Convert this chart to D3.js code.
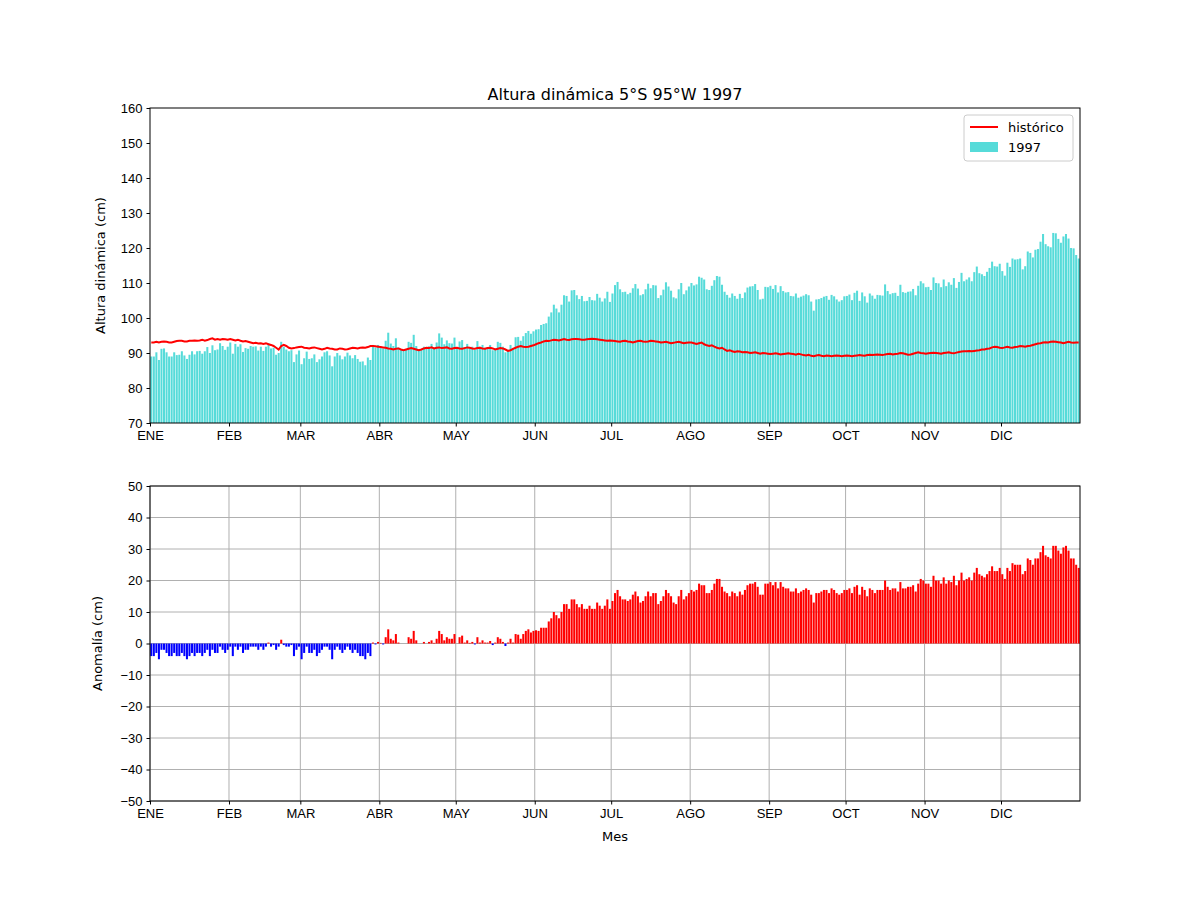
<!DOCTYPE html>
<html><head><meta charset="utf-8">
<script src="https://cdn.jsdelivr.net/npm/d3@7"></script>
<style>body{margin:0;background:#fff}svg{font-family:"DejaVu Sans",sans-serif}</style>
</head><body><svg id="c" width="1200" height="900"></svg>
<script>
const monthLabels=["ENE","FEB","MAR","ABR","MAY","JUN","JUL","AGO","SEP","OCT","NOV","DIC"];
const monthDays=[31,28,31,30,31,30,31,31,30,31,30,31];
const topTicks=[70,80,90,100,110,120,130,140,150,160];
const bottomTicks=[-50,-40,-30,-20,-10,0,10,20,30,40,50];
const anomalyByMonth=[
[-4,-4,-3,-5,-2,-2,-3,-4,-4,-3,-4,-4,-3,-4,-5,-4,-3,-4,-3,-3,-4,-3,-2,-4,-2,-3,-3,-1,-2,-3,-2],
[-1,-4,-1,-2,-1,-3,-2,-2,-1,-1,-1,-2,-1,-2,-1,0.3,-1,-0.5,-2,-1,1.2,-0.5,-1,-1,-0.5,-4,-2,-1],
[-5,-3,-1,-3,-3,-2,-4,-3,-2,-1,-1,-2,-5,-2,-1,-2,-3,-2,-1,-2,-3,-2,-3,-4,-4,-5,-3,-4,0.3,-0.3,0.5],
[0.2,-0.3,2,4.5,1.5,1,3,0.3,0,0,0,2,1.5,4,1,0,0,0.5,0,0.5,1,0.2,1.5,4,3,1,2,1.5,1.5,3],
[0,2,2.5,0.3,1,0.2,0.5,-0.3,2,0.3,1,0.3,0.3,0.8,-0.5,0.3,2,1.5,0.5,-0.8,0.3,1.5,0.3,3,2.8,1.5,3,4,4.5,3.5,4],
[4.2,4,5,5,5,7,8,10,9,8,10,12.5,12.5,11,14,14,12.5,11.5,12.5,11,11,12,11,11,13,12,11,12,14,11],
[13.5,16,17,15,14,14,13.5,14,15.5,16.5,15,13,13.5,15,16.5,15,16,16,12.5,13.5,15,17,16,15,13,12.5,15,17,14,15,16],
[17,16.5,17,19,18.5,18.5,16,16,17,19,20.5,20.5,18,16.5,16,15,16.5,16,15,16.5,15.5,17,18.5,19,19,19.5,18,15.5,15.5,19,19],
[19.5,18.5,19.5,17.5,19.5,18,17.5,17.5,16.5,16.5,17.5,16,16.5,17,17.5,17,15.5,13,16,16,16.5,17,17,16,17.5,17,16,15.5,16,17],
[17,17.5,16,18,18.5,15.5,18,17,15,17.5,17,16,17,17,17,20,18,17,17.5,17.5,16.5,19.5,17.5,17.5,18,18,18.5,16.5,19,20.5,20],
[19,19,18,21.5,20,20,19,21,19,20,19.5,21.5,18.5,20,22.5,20,20.5,21,20,22.5,24,22,21.5,21,22,23,24.5,23,23,24],
[22,20.5,24,23,25.5,25,25,25,22,23,27,26.5,25,27,27,29,31,28,27.5,27,31,31,29.5,28.5,30.5,31,29.5,27,27,25,24]];
const historicByMonth=[
[93,93,93.2,93,93.2,93.3,93.2,93,93,93.2,93.4,93.5,93.5,93.3,93.3,93.5,93.5,93.6,93.5,93.6,93.8,93.5,93.7,94,94.2,93.8,94,93.8,94,93.9,93.8],
[94,93.8,93.6,93.8,93.5,93.3,93.4,93.2,93,92.8,92.9,92.7,92.8,92.6,92.8,92.5,92.3,92,91.5,91,92,92.3,92,91.5,91.3,91.4,91.6,91.7],
[91.8,91.5,91.4,91.3,91.5,91.6,91.4,91.2,91,91.2,91.5,91.3,91.2,91,91,91.3,91.2,91,91.1,91.3,91.5,91.4,91.3,91.5,91.6,91.5,91.7,92,92,91.9,91.8],
[91.7,91.6,91.5,91.3,91.2,91,91.2,91.3,91,90.8,91,91.2,91.4,91.2,91,90.8,91,91.3,91.5,91.4,91.6,91.3,91.5,91.6,91.4,91.5,91.6,91.3,91.2,91.4],
[91.5,91.3,91.2,91.4,91.6,91.5,91.3,91.2,91.4,91.5,91.3,91.2,91.4,91.5,91.3,91,91.2,91.4,91.3,91,90.6,90.8,91.2,91.5,91.8,92,91.8,91.7,91.8,92,92.2],
[92.5,92.8,93,93.3,93.5,93.4,93.6,93.8,93.7,93.6,93.8,94,93.8,93.7,93.9,94,94,93.9,93.8,93.8,93.9,94,94.1,94,93.9,93.8,93.7,93.6,93.5,93.6],
[93.5,93.4,93.3,93.2,93.4,93.5,93.3,93.2,93,93.2,93.4,93.5,93.3,93.2,93.3,93.5,93.4,93.3,93.2,93,93.1,93.2,93,92.8,92.9,93.1,93.2,93,92.8,92.9,93],
[93,92.8,92.6,92.8,93,92.5,92.2,92,92.2,91.8,91.5,91.3,91.5,91,90.6,90.8,90.5,90.3,90.5,90.4,90.2,90.3,90.2,90,90.1,90.2,90,89.8,90,89.9,89.8],
[89.7,89.8,89.9,89.8,89.6,89.7,89.8,89.9,89.8,89.7,89.5,89.8,89.6,89.4,89.3,89.5,89.2,89.1,89.3,89.4,89.2,89.1,89.3,89.2,89.1,89.2,89.3,89.2,89.1,89.2],
[89.3,89.2,89.1,89.2,89.3,89.4,89.3,89.2,89.4,89.5,89.4,89.5,89.6,89.5,89.4,89.6,89.7,89.8,89.6,89.7,89.8,90,89.9,89.7,89.5,89.6,89.8,90,90.2,90,89.9],
[89.8,89.9,90,90.1,90,89.9,89.8,90,90.1,90.2,90,89.9,90.1,90.3,90.4,90.5,90.5,90.6,90.5,90.6,90.7,90.8,91,91,91.2,91.3,91.6,91.8,91.7,91.5],
[91.4,91.6,91.8,91.6,91.5,91.7,91.8,92,91.9,91.8,92,92.1,92.3,92.5,92.7,92.8,93,93.1,93,93.2,93.3,93.2,93.1,93,92.8,93,93.2,93,92.9,93,93]];

const anomaly=anomalyByMonth.flat(), historic=historicByMonth.flat();
const data=historic.map((h,i)=>({d:i,h,a:anomaly[i],v:h+anomaly[i]}));
const monthStart=[];monthDays.reduce((s,n)=>{monthStart.push(s);return s+n;},0);

const svg=d3.select("#c");
const L=150,R=1080;
const x=d3.scaleLinear().domain([0,365]).range([L,R]);
const bw=(x(1)-x(0))*0.8;

function axes(g,y,yt,top,bot,grid){
  if(grid){
    g.append("g").selectAll("line").data(monthStart).join("line").attr("x1",d=>x(d)).attr("x2",d=>x(d)).attr("y1",top).attr("y2",bot).attr("stroke","#b0b0b0").attr("stroke-width",1);
    g.append("g").selectAll("line").data(yt).join("line").attr("x1",L).attr("x2",R).attr("y1",d=>y(d)).attr("y2",d=>y(d)).attr("stroke","#b0b0b0").attr("stroke-width",1);
  }
}
function frame(g,y,yt,top,bot){
  const xa=g.append("g").attr("transform",`translate(0,${bot})`).call(d3.axisBottom(x).tickValues(monthStart).tickFormat((d,i)=>monthLabels[i]).tickSize(3.5).tickPadding(4));
  const ya=g.append("g").attr("transform",`translate(${L},0)`).call(d3.axisLeft(y).tickValues(yt).tickFormat(d=>d<0?"\u2212"+(-d):d).tickSize(3.5).tickPadding(4));
  [xa,ya].forEach(a=>{a.select(".domain").remove();a.selectAll("text").attr("font-size",13).attr("fill","#000");a.selectAll("line").attr("stroke","#000");});
  g.append("rect").attr("x",L).attr("y",top).attr("width",R-L).attr("height",bot-top).attr("fill","none").attr("stroke","#000").attr("stroke-width",1);
}
svg.append("defs").append("clipPath").attr("id","cp1").append("rect").attr("x",L).attr("y",108).attr("width",R-L).attr("height",315);

// top
const y1=d3.scaleLinear().domain([70,160]).range([423,108]);
const g1=svg.append("g");
const gb=g1.append("g").attr("clip-path","url(#cp1)");
gb.selectAll("rect").data(data).join("rect").attr("x",d=>x(d.d+0.5)-bw/2).attr("width",bw).attr("y",d=>y1(d.v)).attr("height",d=>y1(70)-y1(d.v)).attr("fill","#56dbd9");
gb.append("path").datum(data).attr("d",d3.line().x(d=>x(d.d+0.5)).y(d=>y1(d.h))).attr("fill","none").attr("stroke","#ff0000").attr("stroke-width",2);
frame(g1,y1,topTicks,108,423);
svg.append("text").attr("x",615).attr("y",100).attr("text-anchor","middle").attr("font-size",16).text("Altura dinámica 5°S 95°W 1997");
svg.append("text").attr("transform","translate(105,265.5) rotate(-90)").attr("text-anchor","middle").attr("font-size",13).text("Altura dinámica (cm)");
// legend
const lg=svg.append("g");
lg.append("rect").attr("x",964).attr("y",115).attr("width",109).attr("height",46).attr("rx",3).attr("fill","#fff").attr("stroke","#ccc");
lg.append("line").attr("x1",970).attr("x2",998).attr("y1",127).attr("y2",127).attr("stroke","#ff0000").attr("stroke-width",2);
lg.append("rect").attr("x",970).attr("y",142).attr("width",28).attr("height",10).attr("fill","#56dbd9");
lg.append("text").attr("x",1008).attr("y",132).attr("font-size",13).text("histórico");
lg.append("text").attr("x",1008).attr("y",152).attr("font-size",13).text("1997");

// bottom
const y2=d3.scaleLinear().domain([-50,50]).range([801,486]);
const g2=svg.append("g");
axes(g2,y2,bottomTicks,486,801,true);
g2.append("g").selectAll("rect").data(data).join("rect").attr("x",d=>x(d.d+0.5)-bw/2).attr("width",bw)
  .attr("y",d=>y2(Math.max(0,d.a))).attr("height",d=>Math.abs(y2(d.a)-y2(0))).attr("fill",d=>d.a>=0?"#ff0000":"#0000ff");
frame(g2,y2,bottomTicks,486,801);
svg.append("text").attr("transform","translate(102,643.5) rotate(-90)").attr("text-anchor","middle").attr("font-size",13).text("Anomalía (cm)");
svg.append("text").attr("x",615).attr("y",841).attr("text-anchor","middle").attr("font-size",13).text("Mes");
</script></body></html>
